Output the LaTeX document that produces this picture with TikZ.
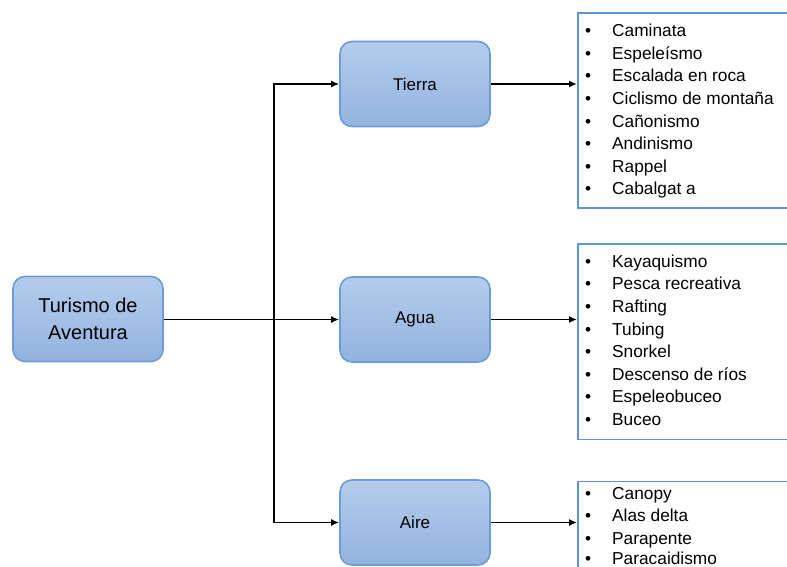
\documentclass[tikz,border=0pt]{standalone}
\usepackage{fontspec}
\setmainfont{Liberation Sans}
\usetikzlibrary{arrows.meta}
\definecolor{boxtop}{HTML}{B5CCEB}
\definecolor{boxbot}{HTML}{92B3DF}
\definecolor{boxedge}{HTML}{6C9DD8}
\definecolor{listedge}{HTML}{5F95D6}
\newcommand{\bul}{\makebox[27pt][l]{•}}
\tikzset{
  catbox/.style={draw=boxedge, line width=1.6pt, rounded corners=12pt,
    top color=boxtop, bottom color=boxbot, minimum width=150pt, minimum height=85pt,
    inner sep=0pt, font=\fontsize{17}{20}\selectfont, text=black},
  rootbox/.style={catbox, align=center, font=\fontsize{20}{27}\selectfont},
  listbox/.style={draw=listedge, line width=1.8pt},
  item/.style={inner sep=0pt, anchor=base west, font=\fontsize{17.3}{20}\selectfont},
  conn/.style={line width=1.7pt, -{Latex[length=8pt,width=7pt]}}
}
\begin{document}
\begin{tikzpicture}[x=1pt,y=-1pt]
\useasboundingbox (0,0) rectangle (787,567);
\begin{scope}
\clip (0,0) rectangle (787,567);
\node[rootbox] (root) at (88,319) {Turismo de\\Aventura};
\node[catbox] (tierra) at (415,84) {Tierra};
\node[catbox] (agua) at (415,319.5) {Agua};
\node[catbox] (aire) at (415,522.5) {Aire};
% list boxes (open past the right edge)
\node[listbox, anchor=north west, minimum width=260pt, minimum height=194.5pt, inner sep=0pt] (lt) at (577,12.5) {};
\node[listbox, anchor=north west, minimum width=260pt, minimum height=195.5pt, inner sep=0pt] (la) at (577,243) {};
\node[listbox, anchor=north west, minimum width=260pt, minimum height=150pt, inner sep=0pt] (lr) at (577,480.5) {};
% items
\node[item] (t1) at (585,36.7) {\bul Caminata};
\node[item] (t2) at (585,59.3) {\bul Espeleísmo};
\node[item] (t3) at (585,81.9) {\bul Escalada en roca};
\node[item] (t4) at (585,104.5) {\bul Ciclismo de montaña};
\node[item] (t5) at (585,127.1) {\bul Cañonismo};
\node[item] (t6) at (585,149.7) {\bul Andinismo};
\node[item] (t7) at (585,172.3) {\bul Rappel};
\node[item] (t8) at (585,194.9) {\bul Cabalgat a};
\node[item] (a1) at (585,267.3) {\bul Kayaquismo};
\node[item] (a2) at (585,289.9) {\bul Pesca recreativa};
\node[item] (a3) at (585,312.5) {\bul Rafting};
\node[item] (a4) at (585,335.1) {\bul Tubing};
\node[item] (a5) at (585,357.7) {\bul Snorkel};
\node[item] (a6) at (585,380.3) {\bul Descenso de ríos};
\node[item] (a7) at (585,402.9) {\bul Espeleobuceo};
\node[item] (a8) at (585,425.5) {\bul Buceo};
\node[item] (r1) at (585,499) {\bul Canopy};
\node[item] (r2) at (585,521.5) {\bul Alas delta};
\node[item] (r3) at (585,544) {\bul Parapente};
\node[item] (r4) at (585,564.5) {\bul Paracaidismo};
\end{scope}
% connectors
\coordinate (j) at (274,319.5);
\draw[conn] (root.east |- agua.west) -- (agua.west);
\draw[conn] (j) |- (tierra.west);
\draw[conn] (j) |- (aire.west);
\draw[conn] (tierra.east) -- (tierra.east -| lt.west);
\draw[conn] (agua.east) -- (agua.east -| la.west);
\draw[conn] (aire.east) -- (aire.east -| lr.west);
\end{tikzpicture}
\end{document}
